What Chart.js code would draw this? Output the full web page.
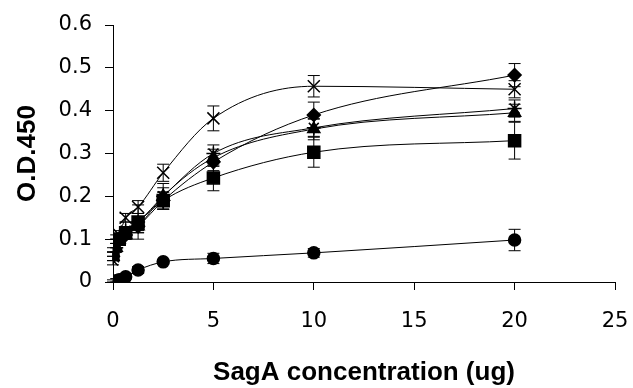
<!DOCTYPE html>
<html>
<head>
<meta charset="utf-8">
<script src="https://cdn.jsdelivr.net/npm/chart.js@4"></script>
<style>
  html, body { margin: 0; padding: 0; background: #fff; }
  #wrap { width: 633px; height: 388px; }
</style>
</head>
<body>
<div id="wrap"><canvas id="c" width="633" height="388"></canvas></div>
<script>
// SagA concentration (ug) on x, one array per series
const concentrations = [0, 0.16, 0.31, 0.63, 1.25, 2.5, 5, 10, 20];

const diamondVals  = [0.06, 0.09, 0.10, 0.11, 0.13, 0.19, 0.28, 0.39, 0.483];
const diamondErr   = [0.01, 0.01, 0.01, 0.01, 0.015, 0.02, 0.02, 0.03, 0.027];
const squareVals   = [0.07, 0.10, 0.10, 0.115, 0.14, 0.19, 0.243, 0.303, 0.33];
const squareErr    = [0.01, 0.01, 0.01, 0.01, 0.02, 0.02, 0.03, 0.035, 0.043];
const triangleVals = [0.06, 0.08, 0.10, 0.11, 0.13, 0.20, 0.29, 0.357, 0.395];
const triangleErr  = [0.01, 0.01, 0.01, 0.01, 0.015, 0.02, 0.02, 0.025, 0.02];
const crossVals    = [0.06, 0.09, 0.11, 0.15, 0.175, 0.255, 0.382, 0.457, 0.45];
const crossErr     = [0.01, 0.01, 0.01, 0.01, 0.015, 0.02, 0.029, 0.025, 0.02];
const starVals     = [0.05, 0.08, 0.10, 0.12, 0.14, 0.20, 0.30, 0.36, 0.405];
const starErr      = [0.01, 0.01, 0.01, 0.02, 0.04, 0.03, 0.02, 0.02, 0.02];
const circleVals   = [0.0, 0.003, 0.005, 0.012, 0.028, 0.047, 0.055, 0.068, 0.098];
const circleErr    = [0.005, 0.005, 0.005, 0.005, 0.008, 0.005, 0.012, 0.01, 0.025];

const yTicks = [0, 0.1, 0.2, 0.3, 0.4, 0.5, 0.6];
const xTicks = [0, 5, 10, 15, 20, 25];

function series(vals, errs, style, radius) {
  return {
    data: concentrations.map((x, i) => ({ x, y: vals[i] })),
    errors: errs,
    showLine: true,
    cubicInterpolationMode: 'monotone',
    borderColor: '#000',
    borderWidth: 1,
    pointStyle: style,
    pointRadius: radius,
    pointBackgroundColor: '#000',
    pointBorderColor: '#000',
    pointBorderWidth: 1.5
  };
}

// vertical error bars with small caps
const errorBars = {
  id: 'errorBars',
  afterDatasetsDraw(chart) {
    const ctx = chart.ctx;
    const xs = chart.scales.x, ys = chart.scales.y;
    ctx.save();
    ctx.strokeStyle = '#000';
    ctx.lineWidth = 1;
    chart.data.datasets.forEach(ds => {
      ds.data.forEach((p, i) => {
        const e = ds.errors[i];
        const px = xs.getPixelForValue(p.x);
        const top = ys.getPixelForValue(p.y + e);
        const bot = ys.getPixelForValue(Math.max(0, p.y - e));
        ctx.beginPath();
        ctx.moveTo(px, top); ctx.lineTo(px, bot);
        ctx.moveTo(px - 6, top); ctx.lineTo(px + 6, top);
        ctx.moveTo(px - 6, bot); ctx.lineTo(px + 6, bot);
        ctx.stroke();
      });
    });
    ctx.restore();
  }
};

const tickFont = { family: 'DejaVu Sans', size: 21 };
const titleFont = { family: 'Liberation Sans', size: 26, weight: 'bold' };

new Chart(document.getElementById('c'), {
  type: 'scatter',
  data: {
    datasets: [
      series(diamondVals, diamondErr, 'rectRot', 6.5),
      series(squareVals, squareErr, 'rect', 8.5),
      series(triangleVals, triangleErr, 'triangle', 7),
      series(crossVals, crossErr, 'crossRot', 8.5),
      series(starVals, starErr, 'star', 7),
      series(circleVals, circleErr, 'circle', 6)
    ]
  },
  options: {
    responsive: false,
    animation: false,
    layout: { padding: { top: 25, right: 18, left: 0, bottom: 0 } },
    plugins: { legend: { display: false }, tooltip: { enabled: false } },
    scales: {
      x: {
        type: 'linear', min: 0, max: 25,
        afterBuildTicks: s => { s.ticks = xTicks.map(v => ({ value: v })); },
        afterFit: s => { s.height = 106; s.paddingLeft = 0; s.paddingRight = 0; },
        ticks: { color: '#000', font: tickFont, padding: 19, maxRotation: 0 },
        grid: { drawOnChartArea: false, tickLength: 8, color: '#000' },
        border: { color: '#000' },
        title: { display: true, text: 'SagA concentration (ug)', color: '#000', font: titleFont, padding: { top: 0, bottom: 0 } }
      },
      y: {
        type: 'linear', min: 0, max: 0.6,
        afterBuildTicks: s => { s.ticks = yTicks.map(v => ({ value: v })); },
        afterFit: s => { s.width = 113; s.paddingTop = 0; s.paddingBottom = 0; },
        ticks: { color: '#000', font: tickFont, padding: 13, callback: v => String(+v.toFixed(1)) },
        grid: { drawOnChartArea: false, tickLength: 8, color: '#000' },
        border: { color: '#000' },
        title: { display: true, text: 'O.D.450', color: '#000', font: titleFont, padding: { top: 12, bottom: 0 } }
      }
    }
  },
  plugins: [errorBars]
});
</script>
</body>
</html>
